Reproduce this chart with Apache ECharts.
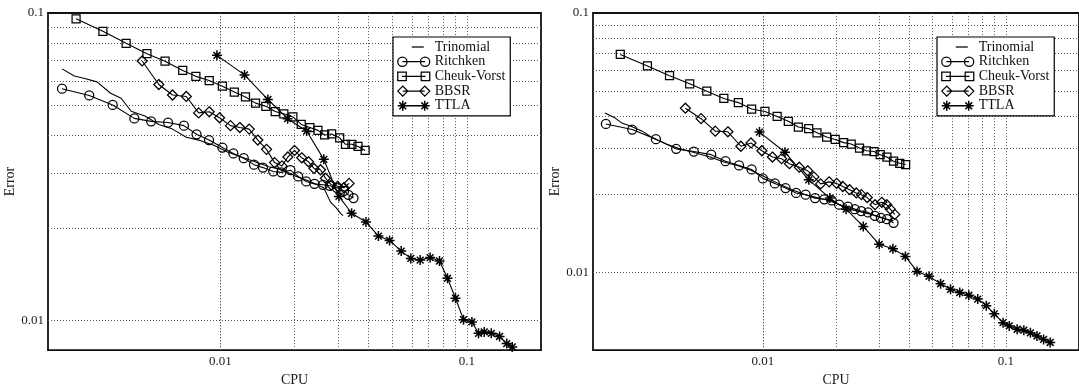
<!DOCTYPE html>
<html>
<head>
<meta charset="utf-8">
<script src="https://cdn.jsdelivr.net/npm/echarts@6/dist/echarts.min.js"></script>
<style>
html,body{margin:0;padding:0;background:#fff;}
#chart{width:1079px;height:392px;}
</style>
</head>
<body>
<div id="chart"></div>
<script>
// ---------- data (CPU time, error) ----------
const seriesNames = ['Trinomial', 'Ritchken', 'Cheuk-Vorst', 'BBSR', 'TTLA'];

// left panel
const trinomialL_cpu = [0.00228,0.00256,0.00282,0.00316,0.00359,0.00396,0.00435,0.00495,0.00563,0.0064,0.00728,0.00827,0.00941,0.0107,0.01216,0.01384,0.01573,0.01788,0.02034,0.02312,0.02629,0.02804,0.02942,0.03087,0.0315];
const trinomialL_err = [0.0658,0.0624,0.0612,0.0597,0.0548,0.0528,0.0479,0.0462,0.0434,0.0419,0.0394,0.0385,0.0371,0.0353,0.0340,0.0328,0.0316,0.0309,0.0294,0.0283,0.0270,0.0242,0.0233,0.0222,0.0219];

const ritchkenL_cpu = [0.00228,0.00294,0.00366,0.00448,0.00524,0.00614,0.00712,0.00801,0.00900,0.0102,0.0113,0.01245,0.0137,0.0149,0.0164,0.0177,0.01925,0.0207,0.0223,0.0241,0.0261,0.0278,0.0297,0.0318,0.0331,0.0347];
const ritchkenL_err = [0.0567,0.0539,0.0502,0.0454,0.0444,0.0440,0.0430,0.0403,0.0386,0.0365,0.0349,0.0337,0.0321,0.0314,0.0305,0.0303,0.0308,0.0294,0.0283,0.0278,0.0276,0.0274,0.0270,0.0264,0.0256,0.0250];

const cheukL_cpu = [0.00260,0.00334,0.00415,0.00504,0.00597,0.00704,0.00796,0.00902,0.0102,0.0114,0.01265,0.0139,0.0153,0.0167,0.0181,0.0197,0.0213,0.0231,0.0249,0.0265,0.0283,0.0305,0.0322,0.0342,0.0362,0.0387];
const cheukL_err = [0.0957,0.0872,0.0797,0.0737,0.0697,0.0650,0.0622,0.0603,0.0578,0.0553,0.0533,0.0509,0.0497,0.0478,0.0470,0.0459,0.0434,0.0424,0.0415,0.0401,0.0404,0.0392,0.0374,0.0374,0.0368,0.0357];

const bbsrL_cpu = [0.00482,0.00563,0.0064,0.00728,0.00817,0.00902,0.00993,0.0110,0.0120,0.0131,0.0142,0.0154,0.0166,0.0178,0.0188,0.0200,0.0214,0.0228,0.0240,0.0255,0.0267,0.0282,0.0299,0.0317,0.0333];
const bbsrL_err = [0.0698,0.0585,0.0541,0.0535,0.0473,0.0477,0.0456,0.0430,0.0424,0.0419,0.0386,0.0360,0.0326,0.0318,0.0340,0.0357,0.0338,0.0328,0.0312,0.0309,0.0290,0.0276,0.0273,0.0270,0.0279];

const ttlaL_cpu = [0.00969,0.01254,0.0156,0.01875,0.0224,0.0263,0.0303,0.0341,0.0390,0.0438,0.0486,0.0542,0.0593,0.0647,0.0710,0.0775,0.0835,0.0900,0.0970,0.1049,0.1116,0.1177,0.1257,0.1358,0.1452,0.1529];
const ttlaL_err = [0.0728,0.0629,0.0523,0.0453,0.0413,0.0334,0.0253,0.0223,0.0209,0.0188,0.0182,0.0168,0.0159,0.0157,0.0160,0.0156,0.0137,0.0118,0.01005,0.00988,0.00907,0.00917,0.00907,0.00886,0.00840,0.00819];

// right panel
const trinomialR_cpu = [0.00224,0.00247,0.00263,0.00285,0.00319,0.00351,0.00400,0.00455,0.00517,0.00607,0.00691,0.00785,0.00894,0.0102,0.01156,0.01315,0.0150,0.0170,0.01874,0.0206,0.02273,0.02585,0.0294,0.0324,0.0345];
const trinomialR_err = [0.0411,0.0393,0.0376,0.0366,0.0350,0.0330,0.0312,0.0299,0.0290,0.0278,0.0266,0.0258,0.0247,0.0233,0.0220,0.0208,0.0199,0.0193,0.0189,0.0182,0.0175,0.0170,0.0165,0.0160,0.0158];

const ritchkenR_cpu = [0.00226,0.00290,0.00363,0.00440,0.00520,0.00613,0.00702,0.00798,0.00899,0.0100,0.0112,0.0124,0.0137,0.0150,0.0164,0.0179,0.0192,0.0206,0.0224,0.0239,0.0254,0.0271,0.0289,0.0306,0.0324,0.0345];
const ritchkenR_err = [0.0373,0.0355,0.0326,0.0299,0.0292,0.0284,0.0268,0.0258,0.0249,0.0230,0.0220,0.0211,0.0202,0.0199,0.0193,0.0191,0.0189,0.0182,0.0179,0.0175,0.0172,0.0170,0.0165,0.0162,0.0160,0.0155];

const cheukR_cpu = [0.00259,0.00335,0.00413,0.00500,0.00588,0.00691,0.00793,0.00899,0.0102,0.01145,0.01273,0.0140,0.01544,0.0167,0.0183,0.01985,0.0215,0.0231,0.0250,0.0267,0.0287,0.0304,0.0324,0.0345,0.0366,0.0387];
const cheukR_err = [0.0692,0.0625,0.0573,0.0533,0.0499,0.0468,0.0451,0.0426,0.0417,0.0399,0.0382,0.0363,0.0358,0.0345,0.0332,0.0325,0.0316,0.0312,0.0301,0.0294,0.0292,0.0284,0.0278,0.0268,0.0263,0.0260];

const bbsrR_cpu = [0.00480,0.00557,0.00637,0.00718,0.00812,0.00894,0.00991,0.01095,0.01194,0.01286,0.01412,0.0153,0.01622,0.01729,0.01874,0.02012,0.02133,0.02275,0.02424,0.02544,0.02689,0.02895,0.03085,0.03237,0.03346,0.0349];
const bbsrR_err = [0.0429,0.0391,0.0350,0.0348,0.0306,0.0315,0.0294,0.0278,0.0274,0.0262,0.0254,0.0246,0.0233,0.0219,0.0223,0.0220,0.0214,0.0208,0.0202,0.0199,0.0194,0.0182,0.0186,0.0182,0.0175,0.0167];

const ttlaR_cpu = [0.00969,0.01233,0.01545,0.01887,0.02201,0.0259,0.0301,0.0343,0.0386,0.0431,0.0483,0.0539,0.0592,0.0646,0.0704,0.0766,0.0831,0.0896,0.0974,0.1033,0.1113,0.1186,0.1262,0.1343,0.1430,0.1522];
const ttlaR_err = [0.0347,0.0290,0.0227,0.0193,0.0175,0.0150,0.0128,0.0123,0.0115,0.01006,0.00963,0.00902,0.00858,0.00834,0.00814,0.00787,0.00742,0.00690,0.00638,0.00620,0.00602,0.00597,0.00583,0.00567,0.00550,0.00535];

// axes ranges and grid-line positions
const cpuRange = [0.002, 0.2];
const errRangeL = [0.008, 0.1];
const errRangeR = [0.005, 0.1];
const cpuGridTicks = [0.003,0.004,0.005,0.006,0.007,0.008,0.009,0.01,0.02,0.03,0.04,0.05,0.06,0.07,0.08,0.09,0.1];
const errGridTicksL = [0.009,0.01,0.02,0.03,0.04,0.05,0.06,0.07,0.08,0.09];
const errGridTicksR = [0.006,0.007,0.008,0.009,0.01,0.02,0.03,0.04,0.05,0.06,0.07,0.08,0.09];
const labelledTicks = ['0.01', '0.1'];

// ---------- styling ----------
const FONT = 'Liberation Serif';
const TXT = '#1a1a1a';
const ASTER = 'path://M0 5 L10 5 M5 0 L5 10 M1.6 1.6 L8.4 8.4 M1.6 8.4 L8.4 1.6';
const symbols = {
  'Trinomial': ['none', 0],
  'Ritchken': ['circle', 9],
  'Cheuk-Vorst': ['rect', 8],
  'BBSR': ['diamond', 10],
  'TTLA': [ASTER, 10]
};
const legendIcons = {
  'Trinomial': 'path://M0 0 M14 5 L26 5 M32 10',
  'Ritchken': 'path://M0.5 5 A4.5 4.5 0 1 0 9.5 5 A4.5 4.5 0 1 0 0.5 5 Z M5 5 L27 5 M22.5 5 A4.5 4.5 0 1 0 31.5 5 A4.5 4.5 0 1 0 22.5 5 Z',
  'Cheuk-Vorst': 'path://M1 1 L9 1 L9 9 L1 9 Z M5 5 L27 5 M23 1 L31 1 L31 9 L23 9 Z',
  'BBSR': 'path://M0 5 L5 0 L10 5 L5 10 Z M5 5 L27 5 M22 5 L27 0 L32 5 L27 10 Z',
  'TTLA': 'path://M0 5 L10 5 M5 0 L5 10 M1.6 1.6 L8.4 8.4 M1.6 8.4 L8.4 1.6 M5 5 L27 5 M22 5 L32 5 M27 0 L27 10 M23.6 1.6 L30.4 8.4 M23.6 8.4 L30.4 1.6'
};

function mkSeries(name, cpu, err, gi) {
  const [sym, size] = symbols[name];
  return {
    type: 'line', name: name, xAxisIndex: gi, yAxisIndex: gi,
    data: cpu.map((c, i) => [c, err[i]]),
    symbol: sym, symbolSize: size, showSymbol: sym !== 'none', showAllSymbol: true,
    lineStyle: { color: '#000', width: 1.1 },
    itemStyle: { color: 'rgba(0,0,0,0)', borderColor: '#000', borderWidth: name === 'TTLA' ? 1.5 : 1.25 },
    emphasis: { disabled: true },
    z: 3, animation: false, clip: true
  };
}

function gridSeries(gi, yTicks) {
  const data = cpuGridTicks.map(v => ({ xAxis: v })).concat(yTicks.map(v => ({ yAxis: v })));
  return {
    type: 'line', name: '_grid' + gi, xAxisIndex: gi, yAxisIndex: gi, data: [],
    silent: true, animation: false, z: 1,
    markLine: {
      silent: true, animation: false, z: 1, symbol: ['none', 'none'],
      label: { show: false },
      lineStyle: { color: '#555', width: 1, type: [1, 2] },
      emphasis: { disabled: true },
      data: data
    }
  };
}

function tickFmt(v) {
  const l = Math.log10(v);
  if (Math.abs(l - Math.round(l)) < 1e-6) {
    const s = Math.round(l) === -2 ? '0.01' : (Math.round(l) === -1 ? '0.1' : '');
    return labelledTicks.indexOf(s) >= 0 ? s : '';
  }
  return '';
}

function xAxisOpt(gi) {
  return {
    type: 'log', logBase: 10, gridIndex: gi, min: cpuRange[0], max: cpuRange[1],
    name: 'CPU', nameLocation: 'middle', nameGap: 15,
    nameTextStyle: { fontFamily: FONT, fontSize: 14, color: TXT },
    axisLine: { show: false }, axisTick: { show: false }, splitLine: { show: false },
    axisLabel: { formatter: tickFmt, fontFamily: FONT, fontSize: 13, color: TXT, margin: 5, showMinLabel: false, showMaxLabel: false }
  };
}
function yAxisOpt(gi, range) {
  return {
    type: 'log', logBase: 10, gridIndex: gi, min: range[0], max: range[1],
    name: 'Error', nameLocation: 'middle', nameGap: 30,
    nameTextStyle: { fontFamily: FONT, fontSize: 14, color: TXT },
    axisLine: { show: false }, axisTick: { show: false }, splitLine: { show: false },
    axisLabel: { formatter: tickFmt, fontFamily: FONT, fontSize: 13, color: TXT, margin: 4, showMinLabel: false }
  };
}
function legendOpt(left) {
  return {
    orient: 'vertical', left: left, top: 37,
    itemWidth: 32, itemHeight: 10, itemGap: 0.7,
    padding: [3, 5, 3, 4],
    borderColor: '#000', borderWidth: 1.2, backgroundColor: '#fff',
    selectedMode: false,
    textStyle: { fontFamily: FONT, fontSize: 14, color: '#111' },
    data: seriesNames.map(n => ({
      name: n, icon: legendIcons[n],
      itemStyle: { color: 'rgba(0,0,0,0)', borderColor: '#000', borderWidth: n === 'TTLA' ? 1.5 : 1.25 }
    }))
  };
}

const chart = echarts.init(document.getElementById('chart'), null, { renderer: 'canvas' });
chart.setOption({
  backgroundColor: '#fff',
  animation: false,
  grid: [
    { left: 48, top: 13, width: 493, height: 344, show: true, borderColor: '#111', borderWidth: 1.8, backgroundColor: 'transparent' },
    { left: 593, top: 13, width: 493, height: 344, show: true, borderColor: '#111', borderWidth: 1.8, backgroundColor: 'transparent' }
  ],
  xAxis: [xAxisOpt(0), xAxisOpt(1)],
  yAxis: [yAxisOpt(0, errRangeL), yAxisOpt(1, errRangeR)],
  legend: [legendOpt(393), legendOpt(937)],
  series: [
    gridSeries(0, errGridTicksL),
    gridSeries(1, errGridTicksR),
    mkSeries('Trinomial', trinomialL_cpu, trinomialL_err, 0),
    mkSeries('Ritchken', ritchkenL_cpu, ritchkenL_err, 0),
    mkSeries('Cheuk-Vorst', cheukL_cpu, cheukL_err, 0),
    mkSeries('BBSR', bbsrL_cpu, bbsrL_err, 0),
    mkSeries('TTLA', ttlaL_cpu, ttlaL_err, 0),
    mkSeries('Trinomial', trinomialR_cpu, trinomialR_err, 1),
    mkSeries('Ritchken', ritchkenR_cpu, ritchkenR_err, 1),
    mkSeries('Cheuk-Vorst', cheukR_cpu, cheukR_err, 1),
    mkSeries('BBSR', bbsrR_cpu, bbsrR_err, 1),
    mkSeries('TTLA', ttlaR_cpu, ttlaR_err, 1)
  ]
});
</script>
</body>
</html>
